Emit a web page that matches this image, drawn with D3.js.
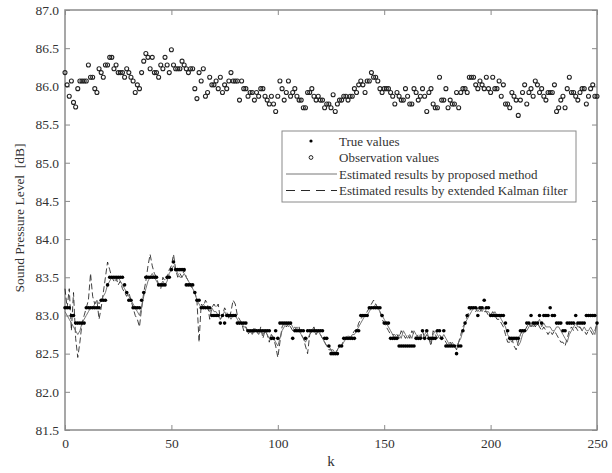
<!DOCTYPE html>
<html>
<head>
<meta charset="utf-8">
<script src="https://cdn.jsdelivr.net/npm/d3@7"></script>
<style>
  body { margin: 0; background: #fff; }
  svg text { font-family: "Liberation Serif", "DejaVu Serif", serif; fill: #333; }
</style>
</head>
<body>
<div id="chart"></div>
<script>
// x axis: time step k, y axis: sound pressure level [dB]
const yTicks = [81.5, 82.0, 82.5, 83.0, 83.5, 84.0, 84.5, 85.0, 85.5, 86.0, 86.5, 87.0];
const xTicks = [0, 50, 100, 150, 200, 250];

// true values (k = 0..250)
const trueValues = [
  83.1,83.1,83.1,83.0,83.0,82.9,82.9,82.9,82.9,82.9,
  83.1,83.1,83.1,83.1,83.1,83.1,83.1,83.2,83.2,83.2,
  83.4,83.5,83.5,83.5,83.5,83.5,83.5,83.5,83.4,83.3,
  83.2,83.2,83.1,83.1,83.1,83.1,83.2,83.3,83.5,83.5,
  83.5,83.5,83.5,83.5,83.4,83.4,83.4,83.4,83.5,83.5,
  83.6,83.7,83.6,83.6,83.6,83.6,83.6,83.4,83.4,83.4,
  83.4,83.3,83.2,83.2,83.1,83.1,83.1,83.1,83.1,83.0,
  83.0,83.0,83.0,82.9,83.0,82.9,83.0,83.0,83.0,83.0,
  83.0,82.9,82.9,82.9,82.9,82.9,82.8,82.8,82.8,82.8,
  82.8,82.8,82.8,82.8,82.8,82.8,82.8,82.7,82.7,82.8,
  82.7,82.9,82.9,82.9,82.9,82.9,82.9,82.7,82.8,82.8,
  82.8,82.8,82.8,82.7,82.8,82.8,82.8,82.8,82.8,82.8,
  82.8,82.8,82.7,82.7,82.6,82.5,82.5,82.5,82.5,82.6,
  82.6,82.7,82.7,82.7,82.7,82.7,82.7,82.8,82.8,83.0,
  83.0,83.0,83.0,83.1,83.1,83.1,83.1,83.1,83.1,83.0,
  82.9,82.9,82.9,82.7,82.7,82.7,82.7,82.6,82.6,82.6,
  82.6,82.6,82.6,82.6,82.6,82.7,82.7,82.7,82.8,82.7,
  82.8,82.7,82.7,82.7,82.7,82.8,82.8,82.7,82.8,82.6,
  82.6,82.6,82.6,82.6,82.5,82.6,82.6,82.8,82.9,83.0,
  83.1,83.1,83.1,83.1,83.0,83.1,83.1,83.2,83.1,83.1,
  83.0,83.0,83.0,83.0,83.0,83.0,83.0,82.9,82.8,82.7,
  82.7,82.7,82.7,82.7,82.8,82.8,82.8,82.9,82.9,83.0,
  82.9,82.9,82.9,83.0,82.9,83.0,83.0,83.0,83.1,83.0,
  83.0,82.9,82.9,82.9,82.8,82.8,82.9,82.9,82.9,82.9,
  83.0,82.9,82.9,82.9,82.9,83.0,83.0,83.0,83.0,83.0,
  82.9
];

// observation values (k = 0..250)
const observationValues = [
  86.18,86.02,85.87,86.07,85.79,85.73,85.97,86.07,86.07,86.07,
  86.07,86.28,86.12,86.12,85.97,85.92,86.23,86.18,86.12,86.28,
  86.28,86.38,86.38,86.23,86.28,86.18,86.18,86.18,86.12,86.23,
  86.18,86.12,86.07,85.92,86.02,85.97,86.18,86.33,86.43,86.38,
  86.23,86.38,86.18,86.18,86.12,86.28,86.23,86.38,86.28,86.18,
  86.48,86.28,86.23,86.23,86.23,86.33,86.28,86.23,86.18,86.23,
  86.23,85.97,85.84,86.18,86.07,86.23,85.87,85.92,86.12,86.02,
  86.02,86.07,85.97,86.12,85.92,86.02,85.97,86.07,86.18,86.07,
  86.07,86.07,85.82,86.07,85.97,85.97,85.87,85.92,85.92,85.82,
  85.92,85.87,85.97,85.97,85.87,85.82,85.77,85.87,85.77,85.67,
  85.87,86.07,85.97,85.82,85.92,86.07,85.87,85.92,85.97,85.87,
  85.82,85.82,85.72,85.72,85.92,85.92,85.97,85.87,85.82,85.87,
  85.82,85.82,85.72,85.77,85.77,85.72,85.89,85.67,85.77,85.82,
  85.82,85.87,85.87,85.82,85.87,85.87,85.97,85.92,86.02,86.07,
  86.02,85.92,86.07,86.07,86.18,86.12,86.12,86.07,85.97,85.92,
  85.97,85.97,85.97,85.92,85.87,85.77,85.92,85.87,85.82,85.82,
  85.97,85.87,85.77,85.77,85.97,85.92,85.82,85.87,85.97,85.87,
  85.67,85.92,85.97,85.77,85.72,85.72,86.12,85.82,85.82,85.97,
  85.72,85.82,85.77,85.77,85.92,85.72,85.92,85.97,85.97,85.92,
  86.12,86.12,86.12,86.02,85.97,86.07,86.02,85.97,86.12,85.97,
  85.92,86.12,85.97,85.97,86.07,85.87,86.02,85.77,85.77,85.72,
  85.92,85.87,85.82,85.62,85.82,85.92,86.02,85.77,85.92,85.97,
  85.87,86.07,86.02,85.92,85.97,85.87,85.82,85.92,85.92,85.92,
  86.02,85.67,85.72,85.82,85.87,85.72,85.97,86.12,85.92,85.92,
  85.87,85.82,85.92,85.97,85.97,85.77,85.87,85.97,86.02,85.87,
  85.87
];

// estimated results by proposed method
const proposedValues = [
  83.05,83.0,82.95,82.9,82.85,82.8,82.75,82.8,82.9,82.95,
  83.0,83.05,83.1,83.1,83.15,83.2,83.15,83.2,83.25,83.3,
  83.4,83.45,83.5,83.5,83.45,83.5,83.45,83.4,83.35,83.3,
  83.25,83.2,83.15,83.1,83.05,83.0,83.1,83.25,83.35,83.45,
  83.5,83.55,83.5,83.45,83.4,83.4,83.45,83.4,83.45,83.55,
  83.6,83.65,83.6,83.55,83.5,83.5,83.55,83.5,83.45,83.4,
  83.35,83.3,83.2,83.15,83.1,83.15,83.1,83.1,83.05,83.1,
  83.05,83.05,83.0,82.95,83.0,83.05,83.0,83.0,82.95,83.0,
  83.0,82.95,82.9,82.9,82.85,82.85,82.8,82.8,82.75,82.8,
  82.8,82.75,82.8,82.75,82.8,82.75,82.7,82.75,82.7,82.65,
  82.6,82.7,82.8,82.85,82.9,82.85,82.9,82.85,82.8,82.85,
  82.8,82.75,82.7,82.65,82.7,82.75,82.8,82.8,82.75,82.8,
  82.75,82.7,82.65,82.6,82.6,82.55,82.55,82.5,82.55,82.6,
  82.6,82.65,82.7,82.7,82.7,82.75,82.75,82.8,82.85,82.9,
  82.95,83.0,83.0,83.05,83.1,83.1,83.15,83.1,83.05,83.0,
  82.95,82.9,82.85,82.8,82.75,82.75,82.7,82.75,82.7,82.8,
  82.75,82.7,82.75,82.7,82.8,82.75,82.7,82.75,82.7,82.75,
  82.8,82.7,82.65,82.75,82.8,82.75,82.7,82.7,82.75,82.7,
  82.65,82.6,82.65,82.6,82.6,82.65,82.7,82.8,82.9,82.95,
  83.0,83.05,83.1,83.1,83.05,83.1,83.05,83.1,83.05,83.05,
  83.0,83.0,83.05,83.0,83.0,82.95,82.9,82.85,82.75,82.7,
  82.65,82.7,82.7,82.6,82.65,82.75,82.8,82.8,82.85,82.9,
  82.85,82.9,82.9,82.95,82.85,82.9,82.85,82.85,82.85,82.8,
  82.8,82.85,82.85,82.8,82.75,82.7,82.65,82.75,82.8,82.85,
  82.9,82.85,82.85,82.8,82.85,82.8,82.8,82.85,82.8,82.75,
  82.9
];

// estimated results by extended Kalman filter
const ekfValues = [
  83.35,83.1,83.35,82.8,83.3,82.7,82.45,82.65,82.9,83.0,
  83.1,83.2,83.55,83.25,83.15,83.2,82.95,83.1,83.3,83.5,
  83.7,83.6,83.5,83.45,83.5,83.4,83.45,83.35,83.3,83.25,
  83.3,83.2,83.1,83.0,82.95,82.85,83.1,83.3,83.45,83.65,
  83.8,83.65,83.55,83.5,83.4,83.35,83.5,83.45,83.5,83.6,
  83.65,83.8,83.6,83.5,83.55,83.5,83.6,83.5,83.45,83.4,
  83.35,83.3,83.2,82.65,83.15,83.1,83.2,83.15,82.95,83.1,
  83.15,83.1,83.15,82.95,83.0,83.1,83.05,82.95,83.05,83.2,
  83.15,83.0,82.95,82.9,82.8,82.85,82.75,82.8,82.75,82.85,
  82.8,82.75,82.85,82.7,82.8,82.75,82.65,82.75,82.7,82.6,
  82.45,82.65,82.85,82.9,82.85,82.9,82.85,82.8,82.85,82.8,
  82.85,82.75,82.7,82.6,82.5,82.75,82.8,82.85,82.75,82.8,
  82.75,82.7,82.65,82.6,82.55,82.55,82.5,82.5,82.55,82.6,
  82.6,82.7,82.7,82.75,82.7,82.75,82.8,82.8,82.9,82.95,
  83.0,83.0,83.05,83.1,83.15,83.2,83.15,83.1,83.05,82.95,
  82.9,82.85,82.8,82.75,82.75,82.7,82.75,82.7,82.8,82.75,
  82.7,82.75,82.7,82.8,82.75,82.7,82.75,82.7,82.8,82.7,
  82.75,82.7,82.6,82.8,82.75,82.7,82.75,82.7,82.7,82.65,
  82.6,82.65,82.6,82.6,82.55,82.65,82.75,82.85,82.9,83.0,
  83.05,83.1,83.1,83.05,83.1,83.05,83.1,83.05,83.05,83.0,
  83.0,83.05,83.0,82.95,82.95,82.9,82.85,82.75,82.65,82.65,
  82.7,82.6,82.55,82.65,82.75,82.8,82.8,82.85,82.9,82.85,
  82.9,82.85,82.9,82.85,82.8,82.85,82.8,82.75,82.8,82.75,
  82.8,82.75,82.7,82.65,82.65,82.6,82.7,82.8,82.85,82.8,
  82.85,82.8,82.85,82.8,82.8,82.75,82.8,82.8,82.75,82.8,
  82.9
];

const legendLabels = [
  "True values",
  "Observation values",
  "Estimated results by proposed method",
  "Estimated results by extended Kalman filter"
];

const width = 612;
const height = 473;
const margin = { top: 10, right: 15, bottom: 43, left: 65 };
const w = width - margin.left - margin.right;
const h = height - margin.top - margin.bottom;

const svg = d3.select("#chart")
  .append("svg")
  .attr("width", width)
  .attr("height", height);

const g = svg.append("g")
  .attr("transform", `translate(${margin.left}, ${margin.top})`);

const xScale = d3.scaleLinear().domain([0, 250]).range([0, w]);
const yScale = d3.scaleLinear().domain([81.5, 87.0]).range([h, 0]);

const frameColor = "#8a8a8a";

// axes, ticks pointing inward on all four sides
const xAxis = d3.axisBottom(xScale).tickValues(xTicks).tickSize(-5).tickPadding(8).tickFormat(d3.format("d"));
const yAxis = d3.axisLeft(yScale).tickValues(yTicks).tickSize(-5).tickPadding(6).tickFormat(d3.format(".1f"));

g.append("g")
  .attr("transform", `translate(0, ${h})`)
  .call(xAxis);
g.append("g").call(yAxis);

g.append("g")
  .call(d3.axisTop(xScale).tickValues(xTicks).tickSize(-5).tickFormat(""));
g.append("g")
  .attr("transform", `translate(${w}, 0)`)
  .call(d3.axisRight(yScale).tickValues(yTicks).tickSize(-5).tickFormat(""));

g.selectAll(".domain").remove();
g.selectAll(".tick line").attr("stroke", frameColor).attr("stroke-width", 1);
g.selectAll(".tick text").style("font-size", "13.5px").attr("fill", "#333");

g.append("rect")
  .attr("x", 0).attr("y", 0)
  .attr("width", w).attr("height", h)
  .attr("fill", "none")
  .attr("stroke", frameColor)
  .attr("stroke-width", 1.5);

// axis labels
svg.append("text")
  .attr("x", margin.left + w / 2)
  .attr("y", 466)
  .attr("text-anchor", "middle")
  .style("font-size", "15px")
  .text("k");

svg.append("text")
  .attr("transform", `translate(24, 218) rotate(-90)`)
  .attr("text-anchor", "middle")
  .style("font-size", "13.5px")
  .style("white-space", "pre")
  .text("Sound Pressure Level  [dB]");

// lines
const lineGen = d3.line()
  .x((d, i) => xScale(i))
  .y(d => yScale(d));

g.append("path")
  .datum(ekfValues)
  .attr("fill", "none")
  .attr("stroke", "#111")
  .attr("stroke-width", 0.8)
  .attr("stroke-dasharray", "6,3")
  .attr("d", lineGen);

g.append("path")
  .datum(proposedValues)
  .attr("fill", "none")
  .attr("stroke", "#666")
  .attr("stroke-width", 0.9)
  .attr("d", lineGen);

// true values (filled dots)
g.selectAll(".true-dot")
  .data(trueValues)
  .enter()
  .append("circle")
  .attr("class", "true-dot")
  .attr("cx", (d, i) => xScale(i))
  .attr("cy", d => yScale(d))
  .attr("r", 1.8)
  .attr("fill", "#000");

// observation values (open circles)
g.selectAll(".obs-dot")
  .data(observationValues)
  .enter()
  .append("circle")
  .attr("class", "obs-dot")
  .attr("cx", (d, i) => xScale(i))
  .attr("cy", d => yScale(d))
  .attr("r", 2)
  .attr("fill", "none")
  .attr("stroke", "#222")
  .attr("stroke-width", 1.1);

// legend
const legend = svg.append("g").attr("transform", "translate(282, 131)");
legend.append("rect")
  .attr("width", 294).attr("height", 71)
  .attr("fill", "#fff")
  .attr("stroke", frameColor)
  .attr("stroke-width", 1);

legendLabels.forEach((label, i) => {
  const y = 10 + i * 16.5;
  if (i === 0) {
    legend.append("circle").attr("cx", 29).attr("cy", y).attr("r", 1.6).attr("fill", "#000");
  } else if (i === 1) {
    legend.append("circle").attr("cx", 29).attr("cy", y).attr("r", 1.9)
      .attr("fill", "none").attr("stroke", "#222").attr("stroke-width", 1);
  } else if (i === 2) {
    legend.append("line").attr("x1", 4).attr("x2", 55).attr("y1", y).attr("y2", y)
      .attr("stroke", "#666").attr("stroke-width", 0.9);
  } else {
    legend.append("line").attr("x1", 4).attr("x2", 55).attr("y1", y).attr("y2", y)
      .attr("stroke", "#111").attr("stroke-width", 0.9).attr("stroke-dasharray", "9,6");
  }
  legend.append("text")
    .attr("x", 57)
    .attr("y", y + 4.5)
    .style("font-size", "13px")
    .text(label);
});
</script>
</body>
</html>
